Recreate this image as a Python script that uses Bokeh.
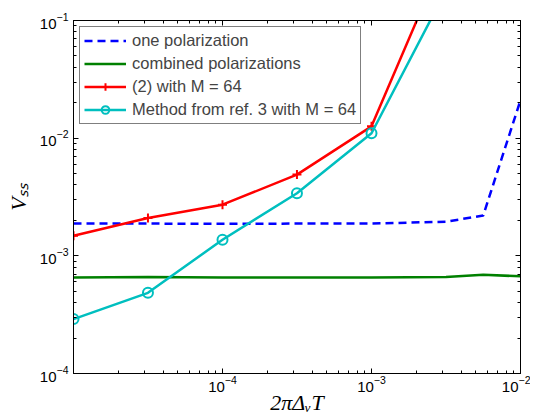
from bokeh.plotting import figure
from bokeh.models import (Range1d, FixedTicker, LogAxis, Legend, LegendItem,
                          CustomJSTickFormatter)
from bokeh.embed import file_html
from bokeh.resources import INLINE

# ---- data ----
x_pol = [1e-5, 3.16e-5, 1e-4, 3.16e-4, 1e-3, 3.16e-3, 5.62e-3, 1e-2]
v_one_pol = [1.88e-3, 1.88e-3, 1.87e-3, 1.88e-3, 1.88e-3, 1.95e-3, 2.2e-3, 2.1e-2]
v_combined = [6.55e-4, 6.6e-4, 6.55e-4, 6.55e-4, 6.55e-4, 6.6e-4, 6.9e-4, 6.7e-4]

x_m64 = [1e-5, 3.16e-5, 1e-4, 3.16e-4, 1e-3, 3.16e-3]
v_eq2 = [1.48e-3, 2.1e-3, 2.72e-3, 4.9e-3, 1.26e-2, 0.38]
v_ref3 = [2.9e-4, 4.85e-4, 1.37e-3, 3.4e-3, 1.1e-2, 0.18]

x_major = [1e-4, 1e-3, 1e-2]
y_major = [1e-4, 1e-3, 1e-2, 1e-1]
labels = ["one polarization", "combined polarizations",
          "(2) with M = 64", "Method from ref. 3 with M = 64"]
x_title = "2πΔᵥT"
y_title = "Vₛₛ"

x_minor = [m * 10.0 ** e for e in (-5, -4, -3) for m in range(2, 10)]
y_minor = [m * 10.0 ** e for e in (-4, -3, -2) for m in range(2, 10)]

p = figure(width=530, height=417, x_axis_type="log", y_axis_type="log",
           x_range=Range1d(1e-5, 1e-2), y_range=Range1d(1e-4, 1e-1),
           output_backend="svg", toolbar_location=None,
           min_border_left=73, min_border_right=10, min_border_top=20,
           min_border_bottom=44)
p.grid.visible = False
p.outline_line_color = "black"
p.outline_line_width = 1
p.background_fill_color = "white"
p.border_fill_color = "white"

xt = FixedTicker(ticks=x_major, minor_ticks=x_minor)
yt = FixedTicker(ticks=y_major, minor_ticks=y_minor)

def style_axis(ax):
    ax.major_tick_in = 5
    ax.major_tick_out = 0
    ax.minor_tick_in = 3
    ax.minor_tick_out = 0
    ax.axis_line_color = "black"
    ax.major_tick_line_color = "black"
    ax.minor_tick_line_color = "black"
    ax.major_label_text_font = "Liberation Sans"
    ax.major_label_text_font_size = "15px"
    ax.major_label_text_color = "black"

p.xaxis.ticker = xt
p.yaxis.ticker = yt
style_axis(p.xaxis[0])
style_axis(p.yaxis[0])
p.xaxis[0].major_label_standoff = 2
p.yaxis[0].major_label_standoff = 5

for ax, title, stand in ((p.xaxis[0], x_title, -5), (p.yaxis[0], y_title, 6)):
    ax.axis_label = title
    ax.axis_label_text_font = "Liberation Serif"
    ax.axis_label_text_font_style = "italic"
    ax.axis_label_text_font_size = "22px"
    ax.axis_label_text_color = "black"
    ax.axis_label_standoff = stand

blank = CustomJSTickFormatter(code="return ''")
top_ax = LogAxis(ticker=xt, formatter=blank)
right_ax = LogAxis(ticker=yt, formatter=blank)
style_axis(top_ax)
style_axis(right_ax)
top_ax.major_label_standoff = 0
right_ax.major_label_standoff = 0
p.add_layout(top_ax, "above")
p.add_layout(right_ax, "right")

r1 = p.line(x_pol, v_one_pol, line_color="#0000ff", line_width=2.5, line_dash="8 5")
r2 = p.line(x_pol, v_combined, line_color="#008000", line_width=2.5)
r3 = p.line(x_m64, v_eq2, line_color="#ff0000", line_width=2.5)
r3m = p.scatter(x_m64, v_eq2, marker="cross", size=9, line_color="#ff0000", line_width=2)
r4 = p.line(x_m64, v_ref3, line_color="#00bfbf", line_width=2.5)
r4m = p.scatter(x_m64, v_ref3, marker="circle", size=10, line_color="#00bfbf",
                fill_color=None, line_width=2)

legend = Legend(items=[LegendItem(label=labels[0], renderers=[r1]),
                       LegendItem(label=labels[1], renderers=[r2]),
                       LegendItem(label=labels[2], renderers=[r3, r3m]),
                       LegendItem(label=labels[3], renderers=[r4, r4m])],
                location="top_left", margin=6, padding=4, spacing=4,
                label_height=19, glyph_height=19, glyph_width=42, label_standoff=6,
                label_text_font="Liberation Sans", label_text_font_size="16.5px",
                border_line_color="black", border_line_width=1,
                background_fill_color="white", background_fill_alpha=1.0)
p.add_layout(legend, "center")

open("out.html", "w").write(file_html(p, INLINE))
